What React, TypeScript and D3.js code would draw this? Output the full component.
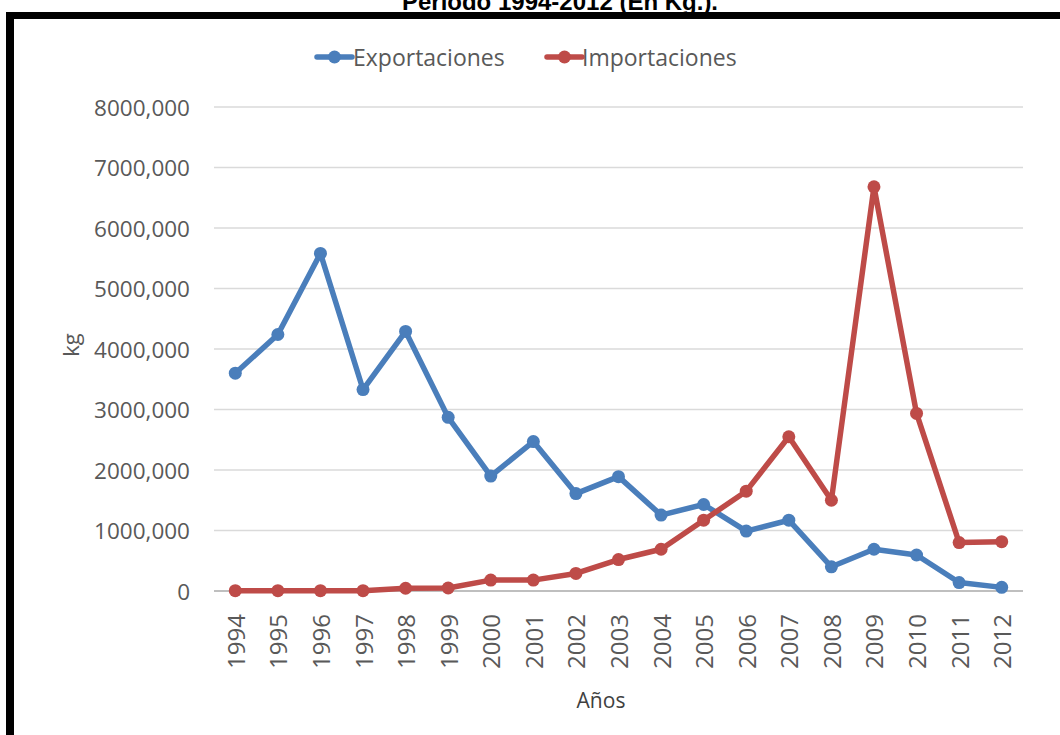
import React from "react";
import * as d3 from "d3";

const years = ["1994","1995","1996","1997","1998","1999","2000","2001","2002","2003","2004","2005","2006","2007","2008","2009","2010","2011","2012"];
const exportaciones = [3600,4240,5580,3330,4290,2870,1900,2470,1610,1890,1255,1430,990,1170,400,690,595,140,60];
const importaciones = [5,5,5,5,45,50,180,180,290,520,690,1170,1650,2550,1500,6680,2935,800,815];
const yTicks = [0,1000,2000,3000,4000,5000,6000,7000,8000];
const yTickLabels = ["0","1000,000","2000,000","3000,000","4000,000","5000,000","6000,000","7000,000","8000,000"];
const seriesNames = ["Exportaciones","Importaciones"];
const seriesColors = ["#4A7EBB","#BE4B48"];
const titleText = "Periodo 1994-2012 (En Kg.).";
const xTitle = "Años";
const yTitle = "kg";

const W = 1060, H = 735;
const FONT = "'Open Sans', sans-serif";

export default function App() {
  const x = d3.scaleBand<string>().domain(years).range([214, 1023]).padding(0);
  const y = d3.scaleLinear().domain([0, 8000]).range([591, 107]);
  const cx = (yr: string) => (x(yr) as number) + x.bandwidth() / 2;
  const line = d3.line<number>().x((_, i) => cx(years[i])).y((v) => y(v));
  const series = [exportaciones, importaciones];
  const legend = [
    { x0: 317, x1: 352, tx: 353 },
    { x0: 547, x1: 582, tx: 582 },
  ];
  return (
    <svg width={W} height={H} style={{ position: "absolute", left: 0, top: 0, display: "block", background: "#fff" }}>
      <rect x={0} y={0} width={W} height={H} fill="#fff" />
      {/* title (cut off at top, as in the reference) */}
      <text x={560} y={9.5} textAnchor="middle" fontFamily="'Liberation Sans', Arial, sans-serif" fontWeight="bold" fontSize={24} fill="#000">{titleText}</text>
      {/* frame */}
      <rect x={6} y={12} width={W - 6} height={7} fill="#000" />
      <rect x={6} y={12} width={8} height={H - 12} fill="#000" />
      {/* gridlines */}
      {yTicks.map((t) => (
        <line key={t} x1={214} x2={1023} y1={y(t)} y2={y(t)} stroke={t === 0 ? "#BFBFBF" : "#DADADA"} strokeWidth={t === 0 ? 2 : 1.5} />
      ))}
      {/* y tick labels */}
      {yTicks.map((t, i) => (
        <text key={t} x={190} y={y(t)} textAnchor="end" dominantBaseline="central" fontFamily={FONT} fontSize={22.5} fill="#595959">{yTickLabels[i]}</text>
      ))}
      {/* x tick labels */}
      {years.map((yr) => (
        <text key={yr} transform={`translate(${cx(yr)},614) rotate(-90)`} textAnchor="end" dominantBaseline="central" fontFamily={FONT} fontSize={24} fill="#595959">{yr}</text>
      ))}
      {/* axis titles */}
      <text x={601} y={708} textAnchor="middle" fontFamily={FONT} fontSize={21} fill="#404040">{xTitle}</text>
      <text transform="translate(70,345) rotate(-90)" textAnchor="middle" dominantBaseline="central" fontFamily={FONT} fontSize={22} fill="#595959">{yTitle}</text>
      {/* series */}
      {series.map((s, si) => (
        <g key={si}>
          <path d={line(s) || ""} fill="none" stroke={seriesColors[si]} strokeWidth={5.5} strokeLinejoin="round" strokeLinecap="round" />
          {s.map((v, i) => (
            <circle key={i} cx={cx(years[i])} cy={y(v)} r={6.5} fill={seriesColors[si]} />
          ))}
        </g>
      ))}
      {/* legend */}
      {seriesNames.map((n, i) => (
        <g key={n}>
          <line x1={legend[i].x0} x2={legend[i].x1} y1={57} y2={57} stroke={seriesColors[i]} strokeWidth={5.5} strokeLinecap="round" />
          <circle cx={(legend[i].x0 + legend[i].x1) / 2} cy={57} r={6.5} fill={seriesColors[i]} />
          <text x={legend[i].tx} y={57} dominantBaseline="central" fontFamily={FONT} fontSize={23} fill="#595959">{n}</text>
        </g>
      ))}
    </svg>
  );
}
